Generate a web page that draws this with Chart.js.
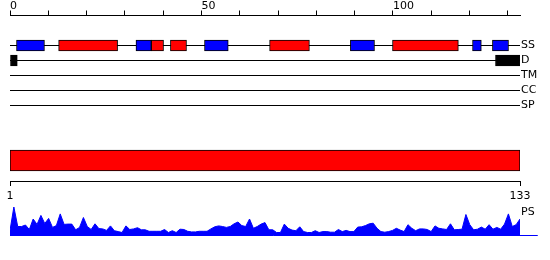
<!DOCTYPE html>
<html>
<head>
<meta charset="utf-8">
<script src="https://cdn.jsdelivr.net/npm/chart.js@4.4.0/dist/chart.umd.min.js"></script>
<style>
  body { margin: 0; background: #fff; }
  #wrap { position: relative; width: 550px; height: 260px; }
  canvas { position: absolute; left: 0; }
</style>
</head>
<body>
<div id="wrap">
  <canvas id="tracks" width="550" height="125" style="top:0px"></canvas>
  <canvas id="domain" width="550" height="65" style="top:140px"></canvas>
  <canvas id="ps" width="550" height="40" style="top:200px"></canvas>
</div>
<script>
// sequence positions (residues)
var topTickLabels = [0, 50, 100];
var bottomTickLabels = [1, 133];
var trackLabels = ['SS', 'D', 'TM', 'CC', 'SP'];

// secondary structure: helix (red) and strand (blue) segments
var helixRanges = [[12.7, 28.1], [36.9, 40.1], [41.9, 46.1], [67.8, 78.2], [99.9, 117.1]];
var strandRanges = [[1.7, 9], [32.9, 36.9], [50.8, 57], [88.9, 95.2], [120.8, 123.1], [126, 130.2]];
// disorder
var disorderRanges = [[0, 1.9], [126.8, 133.3]];
// domain bar
var domainRanges = [[1, 133]];

// PS score per residue 1..133
var psValues = [
  0.17, 0.95, 0.30, 0.30, 0.35, 0.20, 0.55, 0.37, 0.67, 0.40,
  0.57, 0.27, 0.33, 0.72, 0.37, 0.38, 0.38, 0.19, 0.27, 0.60,
  0.30, 0.20, 0.39, 0.23, 0.22, 0.17, 0.32, 0.16, 0.13, 0.10,
  0.32, 0.20, 0.22, 0.26, 0.19, 0.19, 0.14, 0.14, 0.14, 0.14,
  0.20, 0.10, 0.16, 0.10, 0.21, 0.20, 0.14, 0.12, 0.12, 0.14,
  0.14, 0.14, 0.22, 0.29, 0.32, 0.30, 0.27, 0.30, 0.39, 0.45,
  0.33, 0.30, 0.55, 0.24, 0.30, 0.38, 0.43, 0.19, 0.19, 0.10,
  0.10, 0.38, 0.24, 0.18, 0.16, 0.29, 0.13, 0.10, 0.10, 0.16,
  0.10, 0.13, 0.13, 0.11, 0.11, 0.20, 0.13, 0.17, 0.13, 0.13,
  0.28, 0.29, 0.33, 0.39, 0.41, 0.24, 0.13, 0.11, 0.13, 0.17,
  0.24, 0.18, 0.13, 0.36, 0.24, 0.16, 0.22, 0.22, 0.20, 0.13,
  0.32, 0.24, 0.22, 0.20, 0.39, 0.19, 0.20, 0.21, 0.70, 0.36,
  0.19, 0.21, 0.28, 0.21, 0.36, 0.21, 0.27, 0.21, 0.38, 0.72,
  0.30, 0.36, 0.55
];

var topAxisMax = 133.2;
var psLineEnd = 137.6;

Chart.defaults.font.family = 'DejaVu Sans';
Chart.defaults.font.size = 11;
Chart.defaults.color = '#000';

function rangeData(ranges, track) {
    return ranges.map(function (r) { return { x: r, y: track }; });
}

function trackLine(track) {
    return [{ x: 0, y: track }, { x: topAxisMax, y: track }];
}

function boxes(ranges, track, color) {
    return {
        type: 'bar',
        indexAxis: 'y',
        grouped: false,
        barThickness: 11,
        borderWidth: 1,
        borderColor: '#000',
        borderSkipped: false,
        backgroundColor: color,
        data: rangeData(ranges, track)
    };
}

// side label axis: no ticks, no extra padding around the labels
function labelAxisFit(s) {
    s.width = 30;
    s.paddingTop = 0;
    s.paddingBottom = 0;
}

var noPlugins = { legend: { display: false }, tooltip: { enabled: false } };

// tracks chart
var trackSets = [
    boxes(helixRanges, 0, '#ff0000'),
    boxes(strandRanges, 0, '#0000ff'),
    boxes(disorderRanges, 1, '#000000')
];
for (var i = 0; i < trackLabels.length; i++) {
    trackSets.push({
        type: 'line',
        data: trackLine(i),
        borderColor: '#000',
        borderWidth: 1,
        pointRadius: 0,
        fill: false
    });
}

new Chart(document.getElementById('tracks'), {
    type: 'line',
    data: { datasets: trackSets },
    options: {
        animation: false,
        responsive: false,
        layout: { padding: { left: 10, bottom: 4.5 } },
        plugins: noPlugins,
        scales: {
            x: {
                type: 'linear', position: 'top', min: 0, max: topAxisMax, offset: false,
                grid: { drawOnChartArea: false, tickLength: 5, color: '#000', offset: false },
                border: { color: '#000' },
                ticks: {
                    stepSize: 10, includeBounds: false, autoSkip: false, maxRotation: 0,
                    align: 'start', padding: -2,
                    callback: function (v) { return topTickLabels.indexOf(v) >= 0 ? String(v) : ''; }
                },
                afterFit: function (s) { s.height = 15.5; }
            },
            y: {
                type: 'linear', position: 'right', reverse: true, min: -2, max: 5, offset: false,
                grid: { display: false, drawTicks: false, tickLength: 0 },
                border: { display: false },
                ticks: {
                    padding: 1,
                    callback: function (v) { return trackLabels[v] || ''; }
                },
                afterBuildTicks: function (s) {
                    s.ticks = trackLabels.map(function (_, i) { return { value: i }; });
                },
                afterFit: labelAxisFit
            }
        }
    }
});

// domain bar with 1..133 axis
new Chart(document.getElementById('domain'), {
    type: 'bar',
    data: {
        datasets: [{
            data: rangeData(domainRanges, 0),
            backgroundColor: '#ff0000',
            borderColor: '#000',
            borderWidth: 1,
            borderSkipped: false,
            barThickness: 21
        }]
    },
    options: {
        indexAxis: 'y',
        animation: false,
        responsive: false,
        layout: { padding: { left: 10, right: 30 } },
        plugins: noPlugins,
        scales: {
            x: {
                type: 'linear', position: 'bottom', min: 1, max: 133, offset: false,
                grid: { drawOnChartArea: false, tickLength: 5, color: '#000', offset: false },
                border: { color: '#000' },
                ticks: { autoSkip: false, maxRotation: 0, padding: 4 },
                afterBuildTicks: function (s) {
                    s.ticks = bottomTickLabels.map(function (v) { return { value: v }; });
                },
                afterFit: function (s) { s.height = 24; }
            },
            y: { type: 'linear', min: -1, max: 1, display: false, offset: false }
        }
    }
});

// PS profile
new Chart(document.getElementById('ps'), {
    type: 'line',
    data: {
        datasets: [{
            data: psValues.map(function (v, i) { return { x: i + 1, y: v }; }),
            fill: 'origin',
            backgroundColor: '#0000ff',
            borderColor: '#0000ff',
            borderWidth: 1,
            pointRadius: 0,
            tension: 0
        }, {
            data: [{ x: 1, y: 0 }, { x: psLineEnd, y: 0 }],
            borderColor: '#0000ff',
            borderWidth: 1,
            pointRadius: 0,
            fill: false,
            clip: false
        }]
    },
    options: {
        animation: false,
        responsive: false,
        layout: { padding: { left: 10, top: 5.5, bottom: 4.5 } },
        plugins: noPlugins,
        scales: {
            x: { type: 'linear', min: 1, max: 133, display: false },
            y: {
                type: 'linear', position: 'right', min: 0, max: 1,
                grid: { display: false, drawTicks: false, tickLength: 0 },
                border: { display: false },
                ticks: { padding: 1, callback: function () { return 'PS'; } },
                afterBuildTicks: function (s) { s.ticks = [{ value: 0.78 }]; },
                afterFit: labelAxisFit
            }
        }
    }
});
</script>
</body>
</html>
